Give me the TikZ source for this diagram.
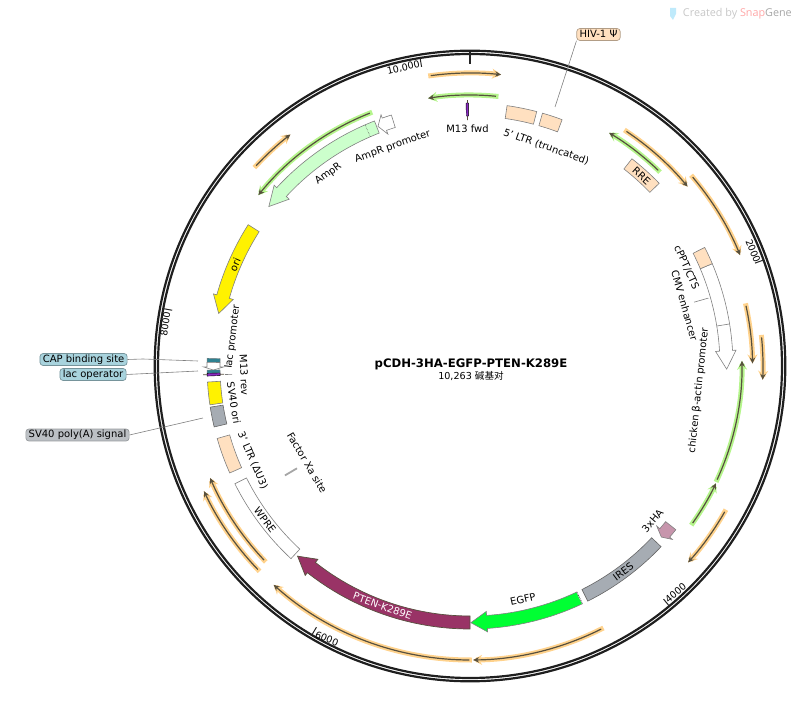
\documentclass[tikz,border=0pt]{standalone}
\usepackage{fontspec}
\setmainfont{DejaVu Sans}
\newfontfamily\cjkfont{Noto Sans CJK SC}
\newfontfamily\markfont{Open Sans}
\usepackage{tikz}
\usetikzlibrary{arrows.meta}

\definecolor{line_dark}{HTML}{57503E}
\definecolor{halo_orange}{HTML}{FFD28C}
\definecolor{halo_green}{HTML}{B5F58C}
\definecolor{ltr_orange}{HTML}{FFE0C0}
\definecolor{amp_green}{HTML}{CCFFCC}
\definecolor{ires_gray}{HTML}{A6ACB3}
\definecolor{pten_red}{HTML}{993366}
\definecolor{egfp_green}{HTML}{00FF33}
\definecolor{ha_pink}{HTML}{C795AC}
\definecolor{site_teal}{HTML}{2F8191}
\definecolor{m13_purple}{HTML}{8A2BC2}
\definecolor{tag_teal}{HTML}{A8D3DD}
\definecolor{tag_gray}{HTML}{BCC0C4}

% rings: 250 to 263, head wings 246 and 266.5, tip 256.7
\newcommand{\featbox}[3]{\draw[#3] (#1:250) arc[start angle=#1,end angle=#2,radius=250] -- (#2:263) arc[start angle=#2,end angle=#1,radius=263] -- cycle;}
\newcommand{\featarrow}[4]{\draw[#4] (#1:250) arc[start angle=#1,end angle=#2,radius=250] -- (#2:246) -- (#3:256.7) -- (#2:266.5) -- (#2:263) arc[start angle=#2,end angle=#1,radius=263] -- cycle;}
\newcommand{\primer}[4]{\draw[#4] (#2:#1) arc[start angle=#2,end angle=#3,radius=#1];}

\begin{document}
\begin{tikzpicture}[
                          x=1pt, y=1pt,
                          orange_primer/.style={preaction={draw=halo_orange, line width=5pt, line cap=rect, -{Stealth[length=9pt,width=10pt]}}, draw=line_dark, line width=1.2pt, -{Stealth[length=6pt,width=5.5pt]}},
                          green_primer/.style={preaction={draw=halo_green, line width=5pt, line cap=rect, -{Stealth[length=9pt,width=10pt]}}, draw=line_dark, line width=1.2pt, -{Stealth[length=6pt,width=5.5pt]}},
                          ltr_box/.style={draw=gray, fill=ltr_orange, line width=0.6pt},
                          white_box/.style={draw=gray, fill=white, line width=0.6pt},
                          gray_box/.style={draw=gray!80!black, fill=ires_gray, line width=0.6pt},
                          yellow_feat/.style={draw=gray, fill=yellow, line width=0.6pt},
                          amp_feat/.style={draw=gray, fill=amp_green, line width=0.6pt},
                          teal_feat/.style={draw=gray, fill=site_teal, line width=0.4pt},
                          purple_feat/.style={fill=m13_purple},
                          ring/.style={draw=black!88, line width=2.2pt},
                          mark_tick/.style={draw=black!85, line width=1pt},
                          thin_site/.style={draw=line_dark, line width=0.7pt},
                          leader/.style={draw=gray, line width=0.6pt},
                          feat_label/.style={inner sep=0pt},
                          num_label/.style={inner sep=0pt, font=\fontsize{9.5}{11}\selectfont},
                          tag/.style={rounded corners=3pt, inner xsep=2.8pt, inner ysep=1.2pt, line width=0.7pt, text height=7.5pt, text depth=2pt},
                      ]
                      \useasboundingbox (-470,366) rectangle (330,-342);

                      % Backbone
                      \draw[ring] (0,0) circle[radius=315.3];
                      \draw[ring] (0,0) circle[radius=312];
                      \draw[mark_tick, line width=2pt] (90:302) -- (90:314);
                      \draw[mark_tick] (99.2:303) -- (99.2:312);
                      \draw[mark_tick] (19.85:303) -- (19.85:312);
                      \draw[mark_tick] (-50.3:303) -- (-50.3:312);
                      \draw[mark_tick] (-120.45:303) -- (-120.45:312);
                      \draw[mark_tick] (169.4:303) -- (169.4:312);

                      \node[num_label, rotate=12.6]   (tick_10000) at (102.6:305.5) {10,000};
                      \node[num_label, rotate=-67.9]  (tick_2000)  at (22.1:305.5)  {2000};
                      \node[num_label, rotate=40]     (tick_4000)  at (-47.8:306)   {4000};
                      \node[num_label, rotate=-23]    (tick_6000)  at (-117.7:308)  {6000};
                      \node[num_label, rotate=82.2]   (tick_8000)  at (172.2:307.5) {8000};

                      % Title
                      \node[inner sep=0pt, font=\bfseries\fontsize{11.7}{14}\selectfont] (plasmid_name) at (1,2) {pCDH-3HA-EGFP-PTEN-K289E};
                      \node[inner sep=0pt, font=\fontsize{9.6}{12}\selectfont] (plasmid_size) at (1,-10) {10,263 {\cjkfont 碱基对}};

                      % Primers
                      \primer{293}{97.7}{83.9}{orange_primer}
                      \primer{271}{84.5}{98.9}{green_primer}
                      \primer{282}{56.3}{39.5}{orange_primer}
                      \primer{271.5}{46.1}{59.2}{green_primer}
                      \primer{292}{40.3}{22.3}{orange_primer}
                      \primer{282.5}{12.3}{0.5}{orange_primer}
                      \primer{293}{5.6}{-2.7}{orange_primer}
                      \primer{272}{-24.7}{1.1}{green_primer}
                      \primer{272.5}{-35.2}{-25.5}{green_primer}
                      \primer{293.5}{-29.8}{-42}{orange_primer}
                      \primer{294}{-63.5}{-89.4}{orange_primer}
                      \primer{294}{-90.1}{-131.9}{orange_primer}
                      \primer{283}{-136.7}{-156.7}{orange_primer}
                      \primer{294}{-136.2}{-154.8}{orange_primer}
                      \primer{293}{136.9}{127.8}{orange_primer}
                      \primer{272}{111.6}{141.1}{green_primer}

                      % Features
                      \draw[thin_site] (90.56:246) -- (90.56:266);
                      \featbox{90.3}{90.85}{purple_feat}
                      \featbox{75.3}{81.9}{ltr_box}
                      \featbox{69.5}{74}{ltr_box}
                      \featbox{44}{52}{ltr_box}
                      \featarrow{22.9}{3.4}{-0.7}{white_box}
                      \draw[white_box] (9.2:250) -- (9.2:263);
                      \featbox{22.9}{26.8}{ltr_box}
                      \featbox{-63.4}{-43.4}{gray_box}
                      \featarrow{-38.5}{-40.6}{-41.8}{draw=gray, fill=ha_pink, line width=0.6pt}
                      \featarrow{-64.7}{-86.2}{-89.8}{draw=gray, fill=egfp_green, line width=0.6pt}
                      \draw[draw=white, line width=0.8pt] (-64.7:250) -- (-64.7:263);
                      \draw[draw=black!70, densely dotted, line width=0.8pt] (-64.7:250) -- (-64.7:263);
                      \featarrow{-90}{-128.2}{-132.2}{draw=line_dark, fill=pten_red, line width=0.7pt}
                      \featbox{206.6}{227.1}{white_box}
                      \featbox{196}{204}{ltr_box}
                      \featbox{189}{193.4}{gray_box}
                      \featbox{183.5}{188.5}{yellow_feat}
                      \featbox{178.3}{179.2}{teal_feat}
                      \featarrow{179.2}{180.2}{180.9}{white_box}
                      \featbox{180.9}{181.6}{teal_feat}
                      \draw[thin_site] (181.9:246) -- (181.9:267);
                      \featbox{181.6}{182.2}{purple_feat}
                      \featarrow{147.5}{164.3}{168.2}{yellow_feat}
                      \featarrow{111.3}{137.3}{141.6}{amp_feat}
                      \draw[draw=black!70, densely dotted, line width=0.5pt] (113.5:250) -- (113.5:263);
                      \featarrow{107.4}{109.5}{111}{white_box}
                      \draw[draw=gray!70!white, line width=1.8pt] (210.6:201) -- (210.6:215);

                      % Labels on the ring
                      \node[feat_label, rotate=0.6]    (m13_fwd_label)  at (90.6:237)    {M13 fwd};
                      \node[feat_label, rotate=-19.2]  (ltr5_label)     at (70.8:232)    {5' LTR (truncated)};
                      \node[feat_label, rotate=-42.1]  (rre_label)      at (47.9:256)    {RRE};
                      \node[feat_label, rotate=-65.5]  (cppt_label)     at (24.5:238)    {cPPT/CTS};
                      \node[feat_label, rotate=-74.2]  (cmv_label)      at (15.8:223)    {CMV enhancer};
                      \node[feat_label, rotate=83.9]   (actin_label)    at (-6.1:230)    {chicken β-actin promoter};
                      \node[feat_label, rotate=49.7]   (ha_label)       at (-40.3:239.4) {3xHA};
                      \node[feat_label, rotate=36.7]   (ires_label)     at (-53.3:256.5) {IRES};
                      \node[feat_label, rotate=12.8]   (egfp_label)     at (-77.2:239)   {EGFP};
                      \node[feat_label, rotate=-20, text=white] (pten_label) at (250:255.5) {PTEN-K289E};
                      \node[feat_label, rotate=-53.1]  (wpre_label)     at (216.9:256.4) {WPRE};
                      \node[feat_label, rotate=-59.3]  (xa_label)       at (210.7:189.5) {Factor Xa site};
                      \node[feat_label, rotate=-66.5]  (ltr3_label)     at (203.5:237)   {3' LTR (ΔU3)};
                      \node[feat_label, rotate=-81.1]  (sv40_ori_label) at (188.9:239)   {SV40 ori};
                      \node[feat_label, rotate=-87.7]  (m13_rev_label)  at (182.3:226)   {M13 rev};
                      \node[feat_label, rotate=83]     (lac_p_label)    at (173:239)     {lac promoter};
                      \node[feat_label, rotate=66.7]   (ori_label)      at (156.7:255.8) {ori};
                      \node[feat_label, rotate=36.4]   (ampr_label)     at (126.4:238.6) {AmpR};
                      \node[feat_label, rotate=19.4]   (ampr_p_label)   at (109.4:232.5) {AmpR promoter};

                      % Tags
                      \node[tag, draw=ltr_orange!70!black, fill=ltr_orange] (hiv_tag) at (128.5,331.5) {HIV-1 Ψ};
                      \node[tag, draw=tag_teal!70!black, fill=tag_teal, anchor=east] (cap_tag) at (-342.5,6.5) {CAP binding site};
                      \node[tag, draw=tag_teal!70!black, fill=tag_teal, anchor=east] (lac_tag) at (-343.5,-8.5) {lac operator};
                      \node[tag, draw=tag_gray!80!black, fill=tag_gray, anchor=east] (poly_tag) at (-340.5,-69) {SV40 poly(A) signal};

                      \coordinate (hiv_end)  at (85,259);
                      \coordinate (cap_bend) at (-327,7);
                      \coordinate (cap_end)  at (-272,5);
                      \coordinate (lac_end)  at (-272,-5);
                      \coordinate (poly_end) at (-267,-52);
                      \coordinate (cmv_from) at (15.9:233);
                      \coordinate (cmv_to)   at (15.9:248);
                      \coordinate (lacp_from) at (182:245);
                      \coordinate (lacp_to)  at (182:238);

                      %Lines
                      \draw[leader] (hiv_tag.south west) -- (hiv_end);
                      \draw[leader] (cap_tag.east) -- (cap_bend) -- (cap_end);
                      \draw[leader] (lac_tag.east) -- (lac_end);
                      \draw[leader] (poly_tag.east) -- (poly_end);
                      \draw[leader] (cmv_from) -- (cmv_to);
                      \draw[leader] (lacp_from) -- (lacp_to);

                      % Watermark
                      \fill[cyan!25] (200,358) -- (206,358) -- (206,352) -- (203,346) -- (200,350) -- cycle;
                      \node[inner sep=0pt, anchor=east, font=\markfont\fontsize{10.8}{13}\selectfont, text=black!22] (snapgene_mark) at (322,352) {Created by \textcolor{red!35}{Snap}\textcolor{black!35}{Gene}};
                  \end{tikzpicture}
\end{document}
